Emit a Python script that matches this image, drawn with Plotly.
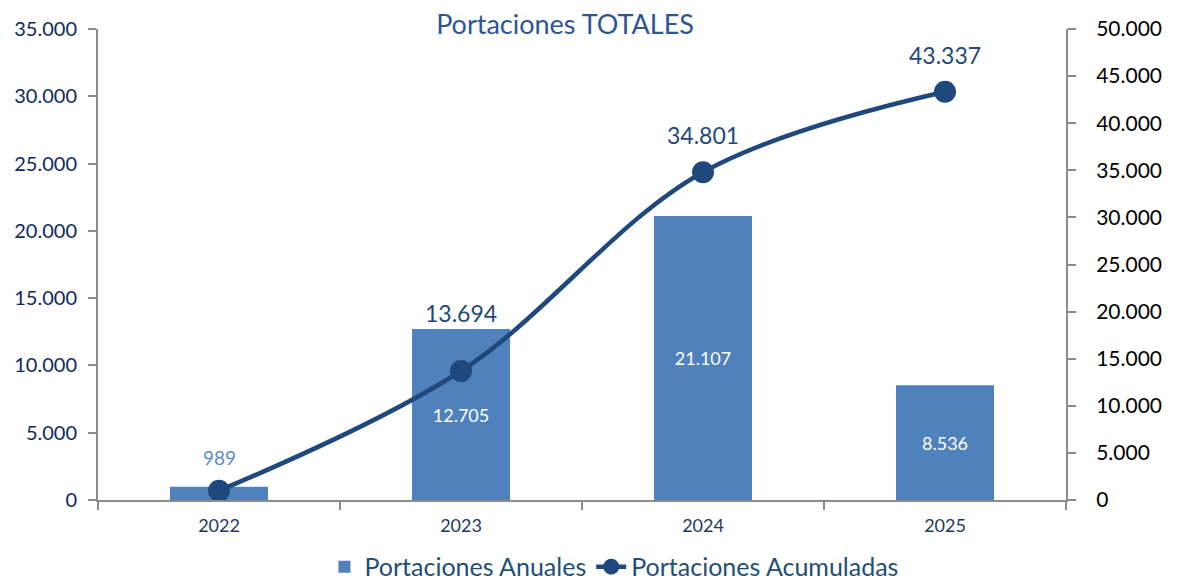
import plotly.graph_objects as go

years = ["2022", "2023", "2024", "2025"]
anuales = [989, 12705, 21107, 8536]
acumuladas = [989, 13694, 34801, 43337]
acum_labels = ["", "13.694", "34.801", "43.337"]

BAR = "#4f81bd"
LINE = "#1f497d"
FONT = "Lato, Carlito, Calibri, sans-serif"

fig = go.Figure()

bar_text = [f"{v:,}".replace(",", ".") for v in anuales]
inside_text = ["" if v < 2000 else t for v, t in zip(anuales, bar_text)]
fig.add_trace(go.Bar(
    x=years, y=anuales, name="Portaciones Anuales",
    marker=dict(color=BAR, line=dict(width=0)),
    text=inside_text, textposition="inside", insidetextanchor="middle",
    insidetextfont=dict(size=18, family=FONT, color="white"),
    cliponaxis=False,
))

fig.add_trace(go.Scatter(
    x=years, y=acumuladas, name="Portaciones Acumuladas", yaxis="y2",
    mode="lines+markers", line=dict(color=LINE, width=4.5, shape="spline", smoothing=1.0),
    marker=dict(size=22, color=LINE), cliponaxis=False,
))

# label for the small bar, placed above it
for i, (v, t) in enumerate(zip(anuales, bar_text)):
    if v < 2000:
        fig.add_annotation(x=i, y=v, xref="x", yref="y", text=t, showarrow=False, yshift=29,
                           font=dict(size=19, family=FONT, color="#5b8cc8"))

# value labels above the cumulative line (category axis -> index positions)
shifts = [37, 58, 37, 37]
for i, (v, lab) in enumerate(zip(acumuladas, acum_labels)):
    if lab:
        fig.add_annotation(x=i, y=v, xref="x", yref="y2", text=lab, showarrow=False, yshift=shifts[i],
                           font=dict(size=23, family=FONT, color=LINE))

# page body adds an 8px offset; figure sized so the plot area lands where the reference has it
fig.update_layout(
    width=1169, height=573,
    paper_bgcolor="white", plot_bgcolor="white",
    margin=dict(l=90, r=111, t=21, b=81, autoexpand=False),
    font=dict(family=FONT),
    separators=",.",
    bargap=0.595,
    title=dict(text="Portaciones TOTALES", x=0.4765, xanchor="center", y=0.972, yanchor="middle",
               font=dict(size=27, family=FONT, color="#2e5597")),
    xaxis=dict(type="category", range=[-0.5, 3.5], showline=True, linecolor="#8c8c8c", linewidth=2,
               ticks="outside", tickson="boundaries", ticklen=8, tickcolor="#8c8c8c", tickwidth=2,
               ticklabelstandoff=8, automargin=False,
               tickfont=dict(size=18, family=FONT, color="#1f3864"), showgrid=False, tickangle=0),
    yaxis=dict(range=[0, 35000], dtick=5000, tickformat=",d", showline=True, linecolor="#8c8c8c",
               linewidth=2, ticks="outside", ticklen=8, tickcolor="#8c8c8c", tickwidth=2,
               ticklabelstandoff=7, automargin=False,
               tickfont=dict(size=20, family=FONT, color="#0f2a5f"), showgrid=False, zeroline=False),
    yaxis2=dict(range=[0, 50000], dtick=5000, tickformat=",d", overlaying="y", side="right",
                showline=True, linecolor="#8c8c8c", linewidth=2, ticks="outside", ticklen=8,
                tickcolor="#8c8c8c", tickwidth=2, ticklabelstandoff=16, automargin=False,
                tickfont=dict(size=21, family=FONT, color="black"),
                showgrid=False, zeroline=False),
    legend=dict(orientation="h", x=0.533, xanchor="center", y=-0.142, yanchor="middle",
                font=dict(size=25, family=FONT, color="#1f4e79")),
    showlegend=True,
)

fig.write_html("out.html")
